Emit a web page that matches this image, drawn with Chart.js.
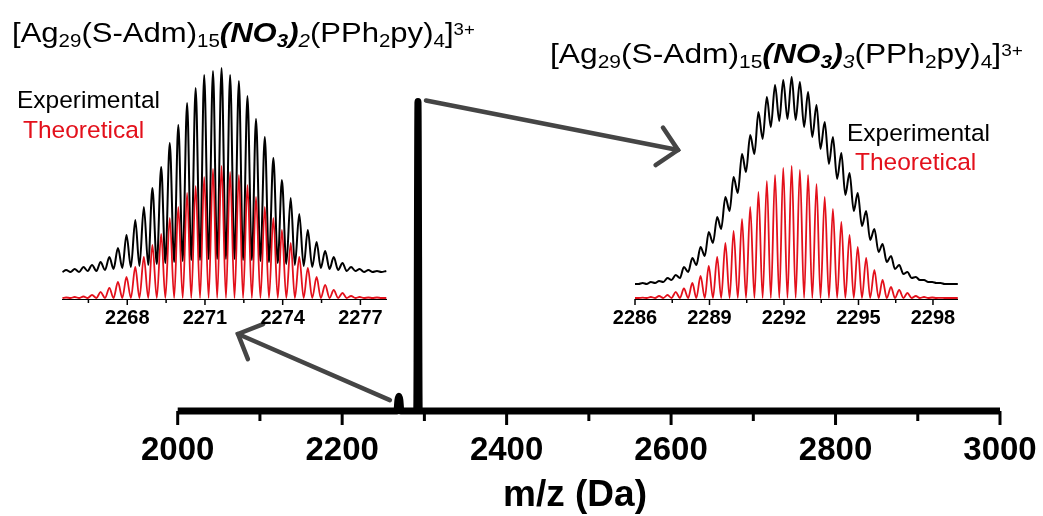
<!DOCTYPE html>
<html><head><meta charset="utf-8">
<script src="https://cdn.jsdelivr.net/npm/chart.js@4.4.1/dist/chart.umd.min.js"></script>
<style>
html,body{margin:0;padding:0;background:#fff;}
#wrap{position:relative;width:1043px;height:516px;overflow:hidden;font-family:"Liberation Sans",Arial,Helvetica,sans-serif;background:#fff;}
canvas{position:absolute;}
.formula{position:absolute;color:#000;white-space:nowrap;line-height:1;transform-origin:0 0;transform:scaleX(1.15);}
.formula sub{font-size:0.66em;vertical-align:-0.26em;line-height:0;}
.formula sup{font-size:0.6em;vertical-align:0.42em;line-height:0;}
.leg{position:absolute;font-size:24.5px;white-space:nowrap;line-height:1;}
</style></head>
<body>
<div id="wrap">
<canvas id="main" width="1043" height="516" style="left:0px;top:0px"></canvas>
<canvas id="insetL" width="420" height="300" style="left:0px;top:40px"></canvas>
<canvas id="insetR" width="420" height="300" style="left:590px;top:40px"></canvas>
<div class="formula" id="fL" style="left:12px;top:20px;font-size:27px">[Ag<sub>29</sub>(S-Adm)<sub>15</sub><b><i>(NO<sub>3</sub>)</i></b><i><sub>2</sub></i>(PPh<sub>2</sub>py)<sub>4</sub>]<sup>3+</sup></div>
<div class="formula" id="fR" style="left:550px;top:40px;font-size:27.6px">[Ag<sub>29</sub>(S-Adm)<sub>15</sub><b><i>(NO<sub>3</sub>)</i></b><i><sub>3</sub></i>(PPh<sub>2</sub>py)<sub>4</sub>]<sup>3+</sup></div>
<div class="leg" style="left:17px;top:88px;color:#000">Experimental</div>
<div class="leg" style="left:23px;top:118px;color:#e3101b">Theoretical</div>
<div class="leg" style="left:847px;top:121px;color:#000">Experimental</div>
<div class="leg" style="left:855px;top:150px;color:#e3101b">Theoretical</div>
</div>
<script>
// ---------- main spectrum ----------
const mainMz  = [2000, 2266.6, 2267.8, 2269.0, 2270.2, 2271.4, 2290.7, 2292.2, 2293.7, 3000];
const mainInt = [0,    0,      0.035,  0.048,  0.035,  0,      0,      1,      0,      0];
const mainTicks = [2000, 2100, 2200, 2300, 2400, 2500, 2600, 2700, 2800, 2900, 3000];
const mainTickLabels = ['2000', '', '2200', '', '2400', '', '2600', '', '2800', '', '3000'];
const mainTitle = 'm/z (Da)';

// ---------- left inset: [Ag29(S-Adm)15(NO3)2(PPh2py)4]3+ ----------
const leftMz = [2265.50,
 2265.64,2265.81, 2265.97,2266.14, 2266.31,2266.47, 2266.64,2266.81, 2266.97,2267.14, 2267.31,2267.47,
 2267.64,2267.81, 2267.97,2268.14, 2268.31,2268.47, 2268.64,2268.81, 2268.97,2269.14, 2269.31,2269.47,
 2269.64,2269.81, 2269.97,2270.14, 2270.31,2270.47, 2270.64,2270.81, 2270.97,2271.14, 2271.31,2271.47,
 2271.64,2271.81, 2271.97,2272.14, 2272.31,2272.47, 2272.64,2272.81, 2272.97,2273.14, 2273.31,2273.47,
 2273.64,2273.81, 2273.97,2274.14, 2274.31,2274.47, 2274.64,2274.81, 2274.97,2275.14, 2275.31,2275.47,
 2275.64,2275.81, 2275.97,2276.14, 2276.31,2276.47, 2276.64,2276.81, 2276.97,2277.14, 2277.31,2277.47,
 2277.64,2277.81, 2278.00];
const leftExp = [27,
 29,27, 30,27, 32,28, 34,28, 37,29, 42,30,
 51,31, 64,32, 79,33, 92,34, 111,35, 132,36,
 156,37, 174,38, 196,39, 211,39, 224,40, 228,40,
 231,40, 224,40, 218,39, 203,39, 180,38, 162,37,
 141,36, 119,35, 101,34, 85,33, 69,32, 57,31,
 48,30, 42,29, 36,28, 32,28, 30,27, 29,27,
 28,27, 28];
const leftTheo = [1,
 1.5,1, 2,1, 2.5,1, 4,1, 7,1, 11,1,
 17,1, 22,1, 32,1, 42,1, 54,1, 65,1,
 81,1, 92,1, 106,1, 113,1, 122,1, 130,1,
 133,1, 127,1, 124,1, 114,1, 102,1, 92,1,
 81,1, 69,1, 56,1, 42,1, 31,1, 22,1,
 14,1, 9,1, 6,1, 3,1, 2,1, 1.5,1,
 1.5,1, 1];
const leftTicks = [2266.5, 2268, 2269.5, 2271, 2272.5, 2274, 2275.5, 2277];
const leftTickLabels = ['', '2268', '', '2271', '', '2274', '', '2277'];

// ---------- right inset: [Ag29(S-Adm)15(NO3)3(PPh2py)4]3+ ----------
const rightMz = [2286.00, 2286.14,
 2286.31,2286.47, 2286.64,2286.81, 2286.97,2287.14, 2287.31,2287.47, 2287.64,2287.81, 2287.97,2288.14,
 2288.31,2288.47, 2288.64,2288.81, 2288.97,2289.14, 2289.31,2289.47, 2289.64,2289.81, 2289.97,2290.14,
 2290.31,2290.47, 2290.64,2290.81, 2290.97,2291.14, 2291.31,2291.47, 2291.64,2291.81, 2291.97,2292.14,
 2292.31,2292.47, 2292.64,2292.81, 2292.97,2293.14, 2293.31,2293.47, 2293.64,2293.81, 2293.97,2294.14,
 2294.31,2294.47, 2294.64,2294.81, 2294.97,2295.14, 2295.31,2295.47, 2295.64,2295.81, 2295.97,2296.14,
 2296.31,2296.47, 2296.64,2296.81, 2296.97,2297.14, 2297.31,2297.47, 2297.64,2297.81, 2297.97,2298.14,
 2298.31,2298.47, 2298.64,2298.81, 2298.97, 2299.00];
const rightExp = [15, 15,
 16,15, 17,16, 18,17, 21,19, 24,21, 32,27,
 41,34, 52,43, 67,56, 82,70, 102,88, 122,106,
 145,127, 164,145, 187,160, 202,172, 214,178, 219,180,
 222,179, 217,172, 207,162, 194,150, 177,135, 162,120,
 146,104, 126,88, 106,73, 88,59, 70,47, 55,37,
 43,30, 34,25, 27,21, 22,19, 19,17, 17,16,
 16,15, 15,15, 15, 15];
const rightTheo = [1, 1,
 1.3,1, 2,1, 3,1, 4,1, 7,1, 10.5,1,
 16,1, 23,1, 33,1, 42,1, 56,1, 68,1,
 80,1, 92,1, 107,1, 118,1, 124,1, 131,1,
 133,1, 129,1, 124,1, 115,1, 102,1, 90,1,
 77,1, 64,1, 52,1, 41,1, 29,1, 19,1,
 12,1, 9,1, 6,1, 3,1, 2,1, 1.5,1,
 1.2,1, 1,1, 1, 1];
const rightTicks = [2286, 2287.5, 2289, 2290.5, 2292, 2293.5, 2295, 2296.5, 2298];
const rightTickLabels = ['2286', '', '2289', '', '2292', '', '2295', '', '2298'];

const FONT = '"Liberation Sans", Arial, Helvetica, sans-serif';
const RED = '#e3101b';

function pts(xs, ys) { return xs.map((x, i) => ({x: x, y: ys[i]})); }

// custom tick marks (major longer than minor), placed via the chart's own x scale
function tickMarks(opts) {
  return {
    id: 'tickMarks',
    afterDraw(chart) {
      const s = chart.scales.x, ctx = chart.ctx, y0 = chart.chartArea.bottom;
      ctx.save();
      ctx.strokeStyle = '#000';
      ctx.lineWidth = opts.width;
      ctx.lineCap = 'butt';
      opts.ticks.forEach((v, i) => {
        const x = s.getPixelForValue(v);
        const len = opts.labels[i] ? opts.major : opts.minor;
        ctx.beginPath();
        ctx.moveTo(x, y0 + opts.start);
        ctx.lineTo(x, y0 + len);
        ctx.stroke();
      });
      ctx.restore();
    }
  };
}

function drawArrow(ctx, x1, y1, x2, y2) {
  const dx = x2 - x1, dy = y2 - y1, L = Math.hypot(dx, dy);
  const ux = -dx / L, uy = -dy / L, a = Math.PI / 4, arm = 27;
  ctx.beginPath();
  ctx.moveTo(x1, y1); ctx.lineTo(x2, y2);
  ctx.stroke();
  ctx.beginPath();
  ctx.moveTo(x2 + arm * (ux * Math.cos(a) - uy * Math.sin(a)), y2 + arm * (ux * Math.sin(a) + uy * Math.cos(a)));
  ctx.lineTo(x2, y2);
  ctx.lineTo(x2 + arm * (ux * Math.cos(-a) - uy * Math.sin(-a)), y2 + arm * (ux * Math.sin(-a) + uy * Math.cos(-a)));
  ctx.stroke();
}

const arrowPlugin = {
  id: 'arrows',
  afterDraw(chart) {
    const xs = chart.scales.x, ys = chart.scales.y, ctx = chart.ctx;
    ctx.save();
    ctx.strokeStyle = '#454545';
    ctx.lineWidth = 4.5;
    ctx.lineCap = 'round';
    ctx.lineJoin = 'miter';
    // from the tall peak (2292) to the right inset
    drawArrow(ctx, xs.getPixelForValue(mainMz[7]) + 8, ys.getPixelForValue(mainInt[7]) - 1, 678, 150);
    // from the small peak (~2270) to the left inset
    drawArrow(ctx, xs.getPixelForValue(mainMz[3]) - 9, ys.getPixelForValue(mainInt[3]) + 4, 238, 334);
    ctx.restore();
  }
};

const axisTitlePlugin = {
  id: 'axisTitle',
  afterDraw(chart) {
    const ctx = chart.ctx;
    ctx.save();
    ctx.fillStyle = '#000';
    ctx.font = 'bold 37px ' + FONT;
    ctx.textAlign = 'center';
    ctx.textBaseline = 'alphabetic';
    ctx.fillText(mainTitle, 575, 506);
    ctx.restore();
  }
};

new Chart(document.getElementById('main'), {
  type: 'line',
  data: { datasets: [{
    data: pts(mainMz, mainInt),
    borderColor: '#000', borderWidth: 7, pointRadius: 0,
    cubicInterpolationMode: 'monotone', clip: false,
    borderJoinStyle: 'round', borderCapStyle: 'butt'
  }]},
  options: {
    responsive: false, animation: false, devicePixelRatio: 1,
    layout: { padding: { left: 177.7, right: 43, top: 70.5, bottom: 0 } },
    plugins: { legend: { display: false }, tooltip: { enabled: false } },
    scales: {
      x: {
        type: 'linear', min: 2000, max: 3000,
        afterBuildTicks: s => { s.ticks = mainTicks.map(v => ({ value: v })); },
        afterFit: s => { s.height = 105; },
        grid: { display: true, drawOnChartArea: false, drawTicks: true, tickLength: 17, tickColor: 'rgba(0,0,0,0)', color: 'rgba(0,0,0,0)' },
        border: { display: false },
        ticks: { autoSkip: false, maxRotation: 0, minRotation: 0, padding: 3, color: '#000',
                 font: { family: FONT, size: 33, weight: 'bold' },
                 callback: (v, i) => mainTickLabels[i] }
      },
      y: { display: false, min: 0, max: 1.1 }
    }
  },
  plugins: [tickMarks({ ticks: mainTicks, labels: mainTickLabels, start: 0, major: 14, minor: 10, width: 3 }), arrowPlugin, axisTitlePlugin]
});

function inset(id, mz, exp, theo, min, max, ticks, labels, padL, padR) {
  new Chart(document.getElementById(id), {
    type: 'line',
    data: { datasets: [
      { data: pts(mz, theo), borderColor: RED, borderWidth: 1.8, pointRadius: 0, cubicInterpolationMode: 'monotone', clip: false },
      { data: pts(mz, exp), borderColor: '#000', borderWidth: 2, pointRadius: 0, cubicInterpolationMode: 'monotone', clip: false }
    ]},
    options: {
      responsive: false, animation: false, devicePixelRatio: 1,
      layout: { padding: { left: padL, right: padR, top: 19, bottom: 0 } },
      plugins: { legend: { display: false }, tooltip: { enabled: false } },
      scales: {
        x: {
          type: 'linear', min: min, max: max,
          afterBuildTicks: s => { s.ticks = ticks.map(v => ({ value: v })); },
          afterFit: s => { s.height = 41; },
          grid: { display: false, drawTicks: false },
          border: { display: true, color: '#000', width: 1 },
          ticks: { autoSkip: false, maxRotation: 0, minRotation: 0, padding: 7, color: '#000',
                   font: { family: FONT, size: 20, weight: 'bold' },
                   callback: (v, i) => labels[i] }
        },
        y: { display: false, min: 0, max: 240 }
      }
    },
    plugins: [tickMarks({ ticks: ticks, labels: labels, start: 0, major: 6, minor: 4, width: 1.5 })]
  });
}

inset('insetL', leftMz, leftExp, leftTheo, 2265.5, 2278, leftTicks, leftTickLabels, 62.5, 33.7);
inset('insetR', rightMz, rightExp, rightTheo, 2286, 2299, rightTicks, rightTickLabels, 45, 52.2);
</script>
</body></html>
